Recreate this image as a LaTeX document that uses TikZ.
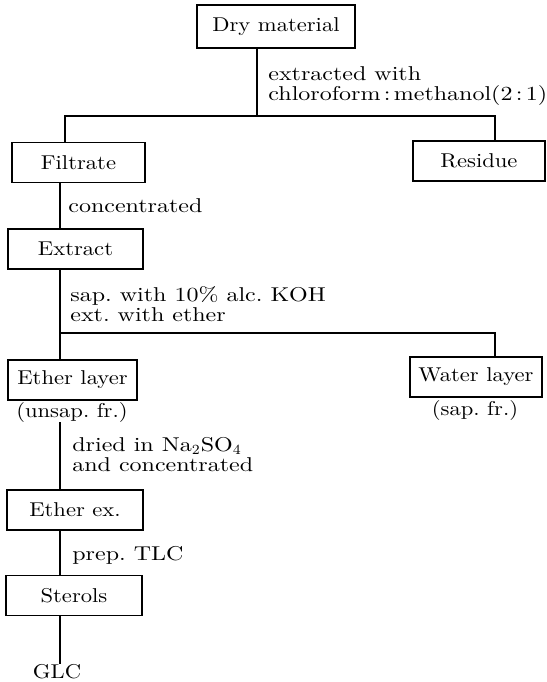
\documentclass[tikz,border=0pt]{standalone}
\usepackage{fontspec}
\setmainfont{Latin Modern Roman}
\usetikzlibrary{calc,positioning}
\newcommand{\boxfont}{\fontsize{10}{12}\selectfont\addfontfeatures{FakeStretch=1.13}}
\newcommand{\notefont}{\fontsize{10}{10}\selectfont\addfontfeatures{FakeStretch=1.2}}
\tikzset{
  every node/.style={inner sep=0},
  box/.style={draw,line width=.7pt,minimum height=20pt,font=\boxfont},
  tag/.style={anchor=base,font=\boxfont},
  note/.style={align=left,font=\notefont},
  link/.style={line width=.7pt}
}
\begin{document}
\begin{tikzpicture}[x=.5pt,y=-.5pt]
  \path[use as bounding box] (0,0) rectangle (547,682);

  % boxes
  \node[box,minimum width=79pt,minimum height=21.5pt] (dry) at (276,26.5) {Dry material};
  \node[box,minimum width=66.5pt] (filtrate) at (78.5,162.5) {Filtrate};
  \node[box,minimum width=66pt] (residue) at (479,161) {Residue};
  \node[box,minimum width=67.5pt] (extract) at (75.5,249) {Extract};
  \node[box,minimum width=64.5pt] (etherlayer) at (72.5,380) {Ether layer};
  \node[box,minimum width=66pt] (waterlayer) at (476,377) {Water layer};
  \node[box,minimum width=68pt] (etherex) at (75,510) {Ether ex.};
  \node[box,minimum width=68pt] (sterols) at (74,595.5) {Sterols};
  \node[tag] (unsap) at (72,417) {(unsap.\ fr.)};
  \node[tag] (sapfr) at (475,415) {(sap.\ fr.)};
  \node[tag] (glc) at (57,678) {GLC};

  % step notes
  \node[note,anchor=north west] (extracted) at (268,66) {extracted with\\chloroform\,:\,methanol(2\,:\,1)};
  \node[note,anchor=base west] (conc) at (68,212) {concentrated};
  \node[note,anchor=north west] (sap) at (70,286) {sap.\ with 10\% alc.\ KOH\\ext.\ with ether};
  \node[note,anchor=north west] (dried) at (72,437) {dried in Na$_2$SO$_4$\\and concentrated};
  \node[note,anchor=base west] (prep) at (72,560) {prep.\ TLC};

  % connectors
  \coordinate (split) at (257,116);
  \coordinate (ltap) at (65,116);
  \coordinate (rtap) at (495,116);
  \coordinate (trunk) at (60,0);
  \coordinate (wtap) at (495,333);
  \draw[link] (dry.south -| split) -- (split);
  \draw[link] (filtrate.north -| ltap) -- (ltap) -- (rtap) -- (residue.north -| rtap);
  \draw[link] (filtrate.south -| trunk) -- (extract.north -| trunk);
  \draw[link] (extract.south -| trunk) -- (etherlayer.north -| trunk);
  \draw[link] (trunk |- wtap) -- (wtap) -- (waterlayer.north -| wtap);
  \draw[link] (unsap.south -| trunk) -- (etherex.north -| trunk);
  \draw[link] (etherex.south -| trunk) -- (sterols.north -| trunk);
  \draw[link] (sterols.south -| trunk) -- (glc.north -| trunk);
\end{tikzpicture}
\end{document}
